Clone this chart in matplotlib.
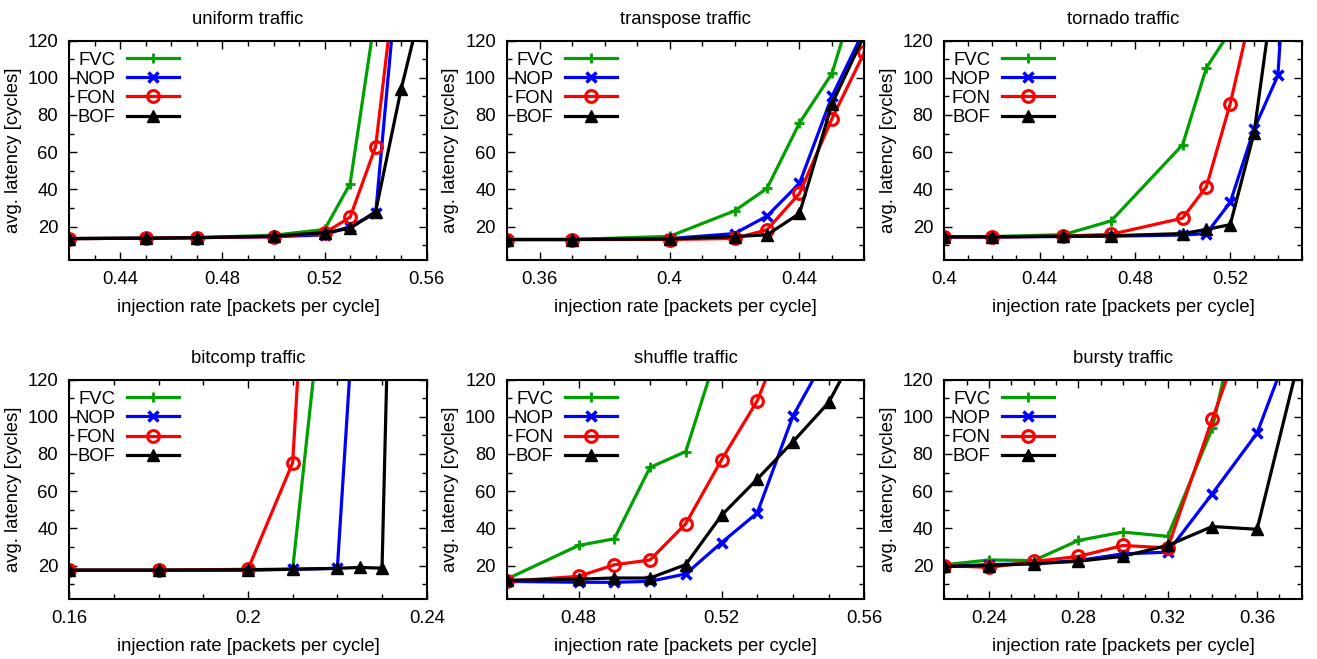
#!/usr/bin/env python3
# Latency vs. injection rate for six traffic patterns (2x3 panels)

import numpy as np
import matplotlib
matplotlib.use("Agg")
import matplotlib.pyplot as plt
from matplotlib.ticker import MultipleLocator

plt.rcParams['font.family'] = ['Liberation Sans', 'DejaVu Sans']
plt.rcParams['font.size'] = 13.3

nan = np.nan
labels = ["FVC", "NOP", "FON", "BOF"]

uniform_x = [0.42, 0.45, 0.47, 0.50, 0.52, 0.53, 0.54, 0.55, 0.56]
uniform_fvc = [13.5, 13.7, 14, 15.3, 18.4, 43, 135, nan, nan]
uniform_nop = [13.5, 13.7, 14, 14.5, 15.5, 20, 27, 177, nan]
uniform_fon = [13.5, 13.7, 14, 14.5, 16.5, 25, 63, 179, nan]
uniform_bof = [13.5, 13.7, 14, 14.8, 16.7, 19, 28, 94, 150]

transpose_x = [0.35, 0.37, 0.40, 0.42, 0.43, 0.44, 0.45, 0.46]
transpose_fvc = [13, 13, 14.7, 28.4, 40.5, 75.7, 102.3, 160]
transpose_nop = [13, 13, 13.5, 16.2, 25.6, 43.2, 90, 126]
transpose_fon = [13, 13, 13, 13.6, 18.2, 37.8, 78, 113.8]
transpose_bof = [13, 13, 13.3, 14.6, 15.5, 27, 86, 123]

tornado_x = [0.40, 0.42, 0.45, 0.47, 0.50, 0.51, 0.52, 0.53, 0.54, 0.55]
tornado_fvc = [14.4, 14.6, 15.6, 23, 63.9, 105.4, 125, nan, nan, nan]
tornado_nop = [14.4, 14.4, 14.6, 14.8, 15.4, 16.2, 33, 72.4, 101.2, 300]
tornado_fon = [14.4, 14.4, 14.8, 15.8, 24.5, 41.4, 86, 142, nan, nan]
tornado_bof = [14.4, 14.4, 14.8, 15, 16.2, 18.4, 21, 70.3, 164, nan]

bitcomp_x = [0.16, 0.18, 0.20, 0.21, 0.22, 0.225, 0.23, 0.24]
bitcomp_fvc = [17.5, 17.5, 17.8, 18, 240, nan, nan, nan]
bitcomp_nop = [17.5, 17.5, 17.5, 18, 18.5, nan, 395, nan]
bitcomp_fon = [17.5, 17.5, 18, 75.3, 480, nan, nan, nan]
bitcomp_bof = [17.5, 17.5, 17.8, 18, 18.5, 19, 18.6, 1000]

shuffle_x = [0.46, 0.48, 0.49, 0.50, 0.51, 0.52, 0.53, 0.54, 0.55, 0.56]
shuffle_fvc = [12.8, 30.8, 34.4, 72.8, 81.3, 142, nan, nan, nan, nan]
shuffle_nop = [11.5, 11, 11, 11.5, 15.5, 32.3, 48.3, 100.5, 135, nan]
shuffle_fon = [11.5, 14.2, 20.4, 23, 42.5, 76.8, 108.6, 157, nan, nan]
shuffle_bof = [12.1, 12.7, 13.3, 13.3, 20.5, 47, 66.5, 86.6, 107.7, 144]

bursty_x = [0.22, 0.24, 0.26, 0.28, 0.30, 0.32, 0.34, 0.36, 0.38]
bursty_fvc = [20.4, 23, 22.7, 33.5, 38, 35.7, 93.9, 201, nan]
bursty_nop = [19.5, 20.5, 21, 22.7, 26.3, 27.2, 58.7, 91.2, 155]
bursty_fon = [20, 19, 22.2, 24.9, 30.8, 29.5, 98.8, 166, nan]
bursty_bof = [19.5, 20, 21, 22.3, 25, 30.8, 41, 39.5, 137]

titles = ["uniform traffic", "transpose traffic", "tornado traffic",
          "bitcomp traffic", "shuffle traffic", "bursty traffic"]
xlims = [(0.42, 0.56), (0.35, 0.46), (0.40, 0.55),
         (0.16, 0.24), (0.46, 0.56), (0.22, 0.38)]

panels = [
    (uniform_x, [uniform_fvc, uniform_nop, uniform_fon, uniform_bof]),
    (transpose_x, [transpose_fvc, transpose_nop, transpose_fon, transpose_bof]),
    (tornado_x, [tornado_fvc, tornado_nop, tornado_fon, tornado_bof]),
    (bitcomp_x, [bitcomp_fvc, bitcomp_nop, bitcomp_fon, bitcomp_bof]),
    (shuffle_x, [shuffle_fvc, shuffle_nop, shuffle_fon, shuffle_bof]),
    (bursty_x, [bursty_fvc, bursty_nop, bursty_fon, bursty_bof]),
]

styles = [
    dict(color="#00a000", marker="+", markersize=7, markeredgewidth=2),
    dict(color="#0000ff", marker="x", markersize=7, markeredgewidth=2.5),
    dict(color="#ff0000", marker="o", markersize=8.5, markeredgewidth=2.2,
         markerfacecolor="none"),
    dict(color="black", marker="^", markersize=9),
]

fig = plt.figure(figsize=(13.17, 6.59), dpi=100)

lefts = [0.0526, 0.385, 0.717]
bottoms = [0.6055, 0.091]
w, h = 0.2714, 0.333

for i, (title, xl, (xs, series)) in enumerate(zip(titles, xlims, panels)):
    ax = fig.add_axes([lefts[i % 3], bottoms[i // 3], w, h])
    xs = np.array(xs)
    for lab, ys, st in zip(labels, series, styles):
        ys = np.array(ys, dtype=float)
        m = ~np.isnan(ys)
        ax.plot(xs[m], ys[m], linewidth=2.3, label=lab, **st)
    ax.set_xlim(*xl)
    ax.set_ylim(2, 120)
    ax.xaxis.set_major_locator(MultipleLocator(0.04))
    ax.xaxis.set_minor_locator(MultipleLocator(0.01))
    ax.yaxis.set_minor_locator(MultipleLocator(10))
    ax.set_yticks([20, 40, 60, 80, 100, 120])
    ax.xaxis.set_major_formatter(matplotlib.ticker.FuncFormatter(
        lambda v, p: ("%.2f" % v).rstrip("0")))
    ax.tick_params(which="both", direction="in", top=True, right=True)
    ax.tick_params(which="major", length=6, width=1, pad=8)
    ax.tick_params(which="minor", length=3.5, width=1)
    for s in ax.spines.values():
        s.set_linewidth(1.5)
    ax.set_title(title, fontsize=13.3, pad=12)
    ax.set_xlabel("injection rate [packets per cycle]", labelpad=8)
    ax.set_ylabel("avg. latency [cycles]", labelpad=4)
    ax.legend(loc="upper left", bbox_to_anchor=(0.018, 0.95),
              frameon=False, markerfirst=False,
              handlelength=2.85, handletextpad=0.6, labelspacing=0.12,
              borderaxespad=0.0, borderpad=0.0, fontsize=13.3)

plt.savefig("out.png")
